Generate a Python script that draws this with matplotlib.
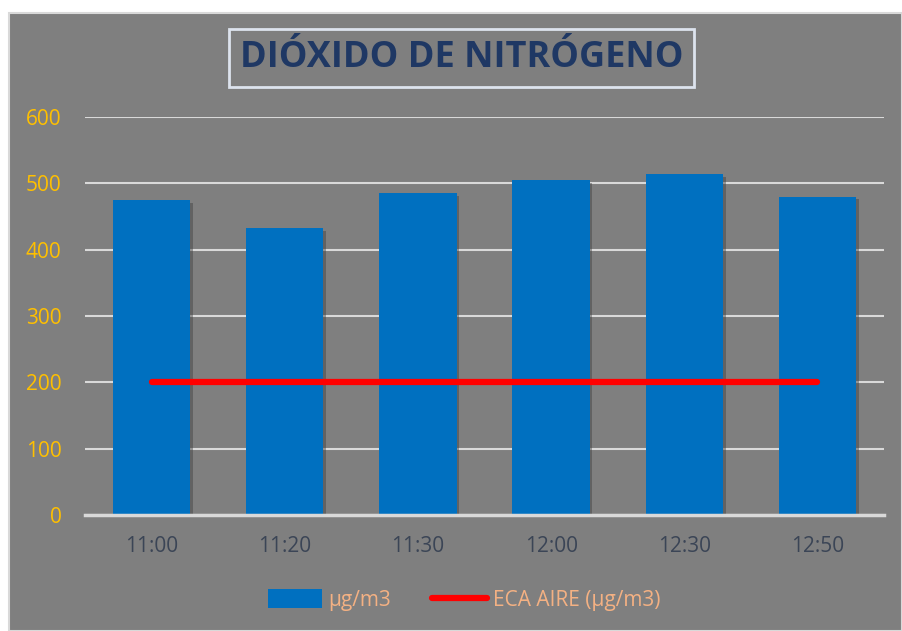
import matplotlib
matplotlib.use("Agg")
import matplotlib.pyplot as plt
import matplotlib.patches as mpatches
import matplotlib.patheffects as pe
from matplotlib.lines import Line2D

categories = ["11:00", "11:20", "11:30", "12:00", "12:30", "12:50"]
no2_values = [475, 432, 485, 505, 514, 480]
eca_values = [200, 200, 200, 200, 200, 200]
yticks = [0, 100, 200, 300, 400, 500, 600]
title = "DIÓXIDO DE NITRÓGENO"

BG = "#7f7f7f"
BLUE = "#0070C0"
RED = "#FF0000"
GRID = "#d9d9d9"

fig = plt.figure(figsize=(9.02, 6.31), dpi=100)
fig.patch.set_facecolor("white")
W, H = 902, 631
bgrect = mpatches.Rectangle((9 / W, 0), 1 - 9 / W, 1 - 13 / H, transform=fig.transFigure,
                            facecolor=BG, edgecolor="#d9d9d9", lw=1.5, zorder=-10)
fig.patches.append(bgrect)

ax = fig.add_axes([85 / W, 1 - 515 / H, (884 - 85) / W, (515 - 117) / H])
ax.set_facecolor("none")
x = list(range(len(categories)))
bars = ax.bar(x, no2_values, width=0.58, color=BLUE, zorder=3,
              path_effects=[pe.SimplePatchShadow(offset=(2, -2), shadow_rgbFace="#404040", alpha=0.45), pe.Normal()])
ax.plot(x, eca_values, color=RED, lw=4.5, solid_capstyle="round", zorder=4)

ax.set_xlim(-0.5, len(categories) - 0.5)
ax.set_ylim(0, 600)
ax.set_yticks(yticks)
ax.set_xticks(x)
ax.set_xticklabels(categories)
for s in ax.spines.values():
    s.set_visible(False)
ax.grid(axis="y", color=GRID, lw=1.5, zorder=1)
ax.axhline(0, color=GRID, lw=2.5, zorder=5, clip_on=False)
ax.tick_params(axis="both", length=0)
ax.tick_params(axis="y", pad=17, labelcolor="#FFC000", labelsize=15)
ax.tick_params(axis="x", pad=15, labelcolor="#3b4556", labelsize=15)
for lab in ax.get_xticklabels() + ax.get_yticklabels():
    lab.set_fontfamily("Open Sans")

fig.text(461.5 / W, 1 - 58 / H, title, ha="center", va="center", fontsize=26,
         fontweight="bold", color="#1F3864", family="Open Sans",
         bbox=dict(boxstyle="square,pad=0.3", facecolor=BG, edgecolor="#dde3ee", lw=2))

handles = [mpatches.Patch(facecolor=BLUE, edgecolor="none"),
           Line2D([0], [0], color=RED, lw=4.5, solid_capstyle="round")]
leg = fig.legend(handles, ["µg/m3", "ECA AIRE (µg/m3)"], loc="center",
                 bbox_to_anchor=(464 / W, 1 - 600 / H), ncol=2, frameon=False,
                 handlelength=2.6, handleheight=1.0, columnspacing=2.0, handletextpad=0.3,
                 prop={"family": "Open Sans", "size": 15})
for t in leg.get_texts():
    t.set_color("#F4B183")

fig.savefig("out.png", dpi=100, facecolor=fig.get_facecolor())
